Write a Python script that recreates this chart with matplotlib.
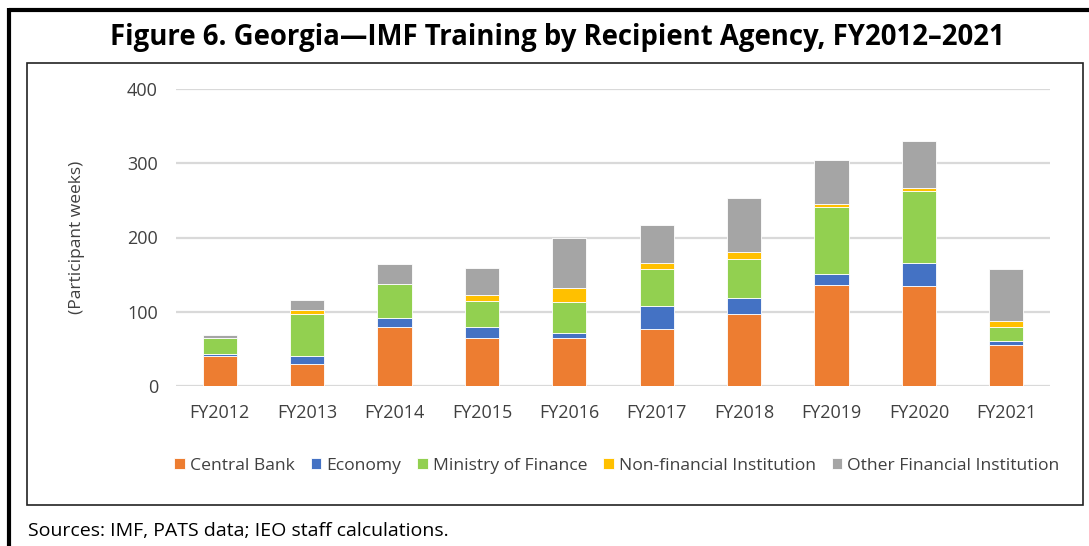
import matplotlib
matplotlib.use("Agg")
import matplotlib.pyplot as plt
from matplotlib.patches import Rectangle
from matplotlib.lines import Line2D
import numpy as np

# Data (participant weeks)
years = ['FY2012', 'FY2013', 'FY2014', 'FY2015', 'FY2016',
         'FY2017', 'FY2018', 'FY2019', 'FY2020', 'FY2021']
central_bank = [41, 30, 79, 64, 64, 77, 97, 136, 135, 55]
economy = [2, 10.5, 12.5, 15, 7, 31, 22, 15, 30, 5]
ministry_finance = [21, 56, 46, 35, 41.5, 49, 52, 90, 97, 19]
non_financial = [0, 6, 0, 9, 19.5, 8.5, 9, 4, 5, 9]
other_financial = [5, 13, 26.5, 36, 68, 52, 73, 59, 63, 69]

series_names = ['Central Bank', 'Economy', 'Ministry of Finance',
                'Non-financial Institution', 'Other Financial Institution']
series_colors = ['#ED7D31', '#4472C4', '#92D050', '#FFC000', '#A5A5A5']

W, H = 1089, 546
fig = plt.figure(figsize=(W / 100, H / 100), dpi=100)
plt.rcParams['font.family'] = ['Open Sans', 'DejaVu Sans']

# outer frame (thick black, top and left)
fig.add_artist(Line2D([9 / W, 1.0], [1 - 9.5 / H, 1 - 9.5 / H], transform=fig.transFigure,
                      color='black', linewidth=3, solid_capstyle='butt'))
fig.add_artist(Line2D([9 / W, 9 / W], [1 - 8 / H, 0.0], transform=fig.transFigure,
                      color='black', linewidth=3, solid_capstyle='butt'))

# inner chart box
fig.add_artist(Rectangle((27 / W, 1 - 505 / H), (1083 - 27) / W, (505 - 63) / H,
                         transform=fig.transFigure, fill=False, edgecolor='#222222', linewidth=1.2))

# title
fig.text(557 / W, 1 - 38 / H, 'Figure 6. Georgia\u2014IMF Training by Recipient Agency, FY2012\u20132021',
         ha='center', va='center', fontsize=19.8, fontweight='bold', color='black')

# sources
fig.text(28 / W, 1 - 531 / H, 'Sources: IMF, PATS data; IEO staff calculations.',
         ha='left', va='center', fontsize=14, color='black')

ax = fig.add_axes([176 / W, 1 - 386 / H, (1050 - 176) / W, (386 - 89) / H])

x = np.arange(len(years))
bottom = np.zeros(len(years))
all_series = [central_bank, economy, ministry_finance, non_financial, other_financial]
for vals, name, col in zip(all_series, series_names, series_colors):
    vals = np.array(vals, dtype=float)
    ax.bar(x, vals, width=0.39, bottom=bottom, color=col, edgecolor='white',
           linewidth=0.6, label=name, zorder=3)
    bottom += vals

ax.set_xlim(-0.5, len(years) - 0.5)
ax.set_ylim(0, 400)
ax.set_yticks([0, 100, 200, 300, 400])
ax.set_xticks(x)
ax.set_xticklabels(years)
ax.grid(axis='y', color='#D9D9D9', linewidth=1.6, zorder=0)
ax.set_axisbelow(True)
for s in ax.spines.values():
    s.set_visible(False)
ax.tick_params(axis='both', length=0, labelsize=13, colors='#404040')
ax.tick_params(axis='y', pad=13)
ax.tick_params(axis='x', pad=13)
ax.set_ylabel('(Participant weeks)', fontsize=12.5, color='#404040', labelpad=30)

handles, labels = ax.get_legend_handles_labels()
fig.legend(handles, labels, loc='center', bbox_to_anchor=(617 / W, 1 - 466 / H), ncol=5,
           frameon=False, fontsize=12.6, handlelength=0.6, handleheight=0.6,
           handletextpad=0.3, columnspacing=0.9, labelcolor='#404040')

fig.savefig('out.png', dpi=100)
